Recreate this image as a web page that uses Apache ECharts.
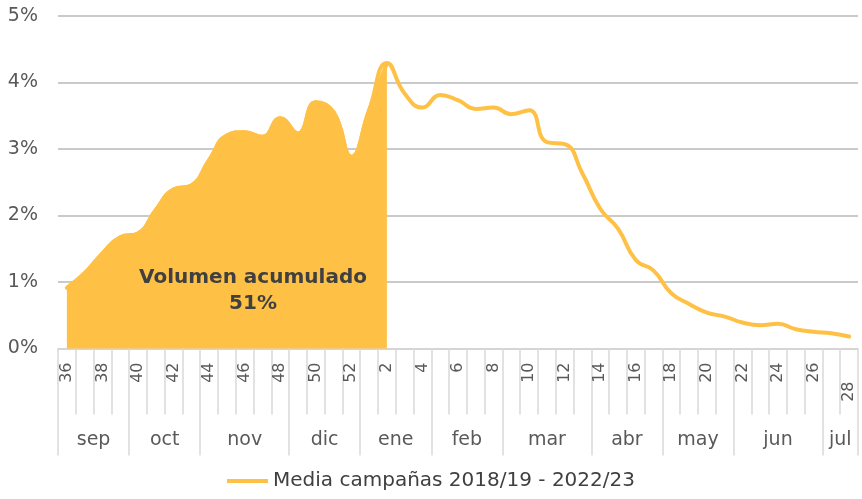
<!DOCTYPE html>
<html>
<head>
<meta charset="utf-8">
<script src="https://cdn.jsdelivr.net/npm/echarts@6/dist/echarts.min.js"></script>
<style>
html,body{margin:0;padding:0;background:#fff;}
#c{width:862px;height:499px;}
</style>
</head>
<body>
<div id="c"></div>
<script>
// Weeks (campaign Sep -> Jul)
var weeks = ['36','37','38','39','40','41','42','43','44','45','46','47','48','49','50','51','52',
             '1','2','3','4','5','6','7','8','9','10','11','12','13','14','15','16','17','18','19','20',
             '21','22','23','24','25','26','27','28'];
// Weekly share of volume (%)
var media = [0.91,1.13,1.43,1.67,1.73,2.08,2.39,2.45,2.83,3.20,3.25,3.18,3.46,3.23,3.70,3.55,2.88,
             3.58,4.29,3.83,3.62,3.81,3.73,3.60,3.62,3.52,3.58,3.10,3.07,2.63,2.10,1.80,1.33,1.17,0.83,0.67,0.54,
             0.48,0.39,0.35,0.37,0.29,0.25,0.23,0.18];
// Accumulated up to week 2
var accumWeeks = 19;
// Month groups: name and number of weeks
var months = ['sep','oct','nov','dic','ene','feb','mar','abr','may','jun','jul'];
var monthWeeks = [4,4,5,4,4,4,5,4,4,5,2];
var yTicks = [0,1,2,3,4,5];
var seriesName = 'Media campañas 2018/19 - 2022/23';
var annotation = 'Volumen acumulado\n51%';

var accum = media.map(function(v,i){ return i < accumWeeks ? v : null; });

var boundaries = [0], centers = [], cursor = 0, centerName = {};
monthWeeks.forEach(function(n,i){
  var c = cursor + n/2;
  centers.push(c);
  centerName[c] = months[i];
  cursor += n;
  boundaries.push(cursor);
});

var FONT = 'DejaVu Sans';
var GOLD = '#FFC145';
var TXT = '#595959';
var chart = echarts.init(document.getElementById('c'), null, {renderer:'canvas'});
chart.setOption({
  animation:false,
  textStyle:{fontFamily:FONT},
  grid:{left:58,right:4,top:15.7,bottom:150.5},
  legend:{
    data:[seriesName],
    bottom:3,
    left:'center',
    icon:'rect',
    itemWidth:41,
    itemHeight:4,
    itemGap:12,
    textStyle:{fontFamily:FONT,fontSize:20,color:'#404040'}
  },
  xAxis:[{
    type:'category',
    data:weeks,
    boundaryGap:true,
    axisLine:{show:true,lineStyle:{color:'#d9d9d9',width:1.5}},
    axisTick:{show:true,interval:0,length:66,lineStyle:{color:'#d9d9d9',width:1.5}},
    axisLabel:{
      interval:1,rotate:90,margin:14,fontSize:16,color:TXT,fontFamily:FONT,
      formatter:function(v){ return v==='28' ? '{low|'+v+'}' : v; },
      rich:{low:{fontSize:16,color:TXT,fontFamily:FONT,padding:[0,19,0,0]}}
    },
    splitLine:{show:false}
  },{
    type:'value',
    min:0,max:weeks.length,
    position:'bottom',
    axisLine:{show:false},
    axisTick:{show:true,customValues:boundaries,length:107,lineStyle:{color:'#d9d9d9',width:1.5}},
    axisLabel:{
      customValues:centers,margin:82,fontSize:19,color:TXT,fontFamily:FONT,
      formatter:function(v){ return centerName[v] || ''; }
    },
    splitLine:{show:false}
  }],
  yAxis:{
    type:'value',
    min:yTicks[0],max:yTicks[yTicks.length-1],interval:1,
    axisLine:{show:false},
    axisTick:{show:false},
    axisLabel:{margin:20,fontSize:19,color:TXT,fontFamily:FONT,formatter:'{value}%'},
    splitLine:{lineStyle:{color:'#b8b8b8',width:1.5}}
  },
  graphic:[{
    type:'text',
    x:253,y:291,z:100,
    style:{
      text:annotation,
      align:'center',verticalAlign:'middle',
      fontFamily:FONT,fontSize:20,fontWeight:'bold',fill:'#404040',lineHeight:26
    }
  }],
  series:[{
    name:'acumulado',
    type:'line',
    data:accum,
    smooth:true,
    symbol:'none',
    lineStyle:{color:GOLD,width:4},
    itemStyle:{color:GOLD},
    areaStyle:{color:GOLD,opacity:1},
    z:2
  },{
    name:seriesName,
    type:'line',
    data:media,
    smooth:true,
    symbol:'none',
    lineStyle:{color:GOLD,width:4,cap:'round'},
    itemStyle:{color:GOLD},
    z:3
  }]
});
</script>
</body>
</html>
